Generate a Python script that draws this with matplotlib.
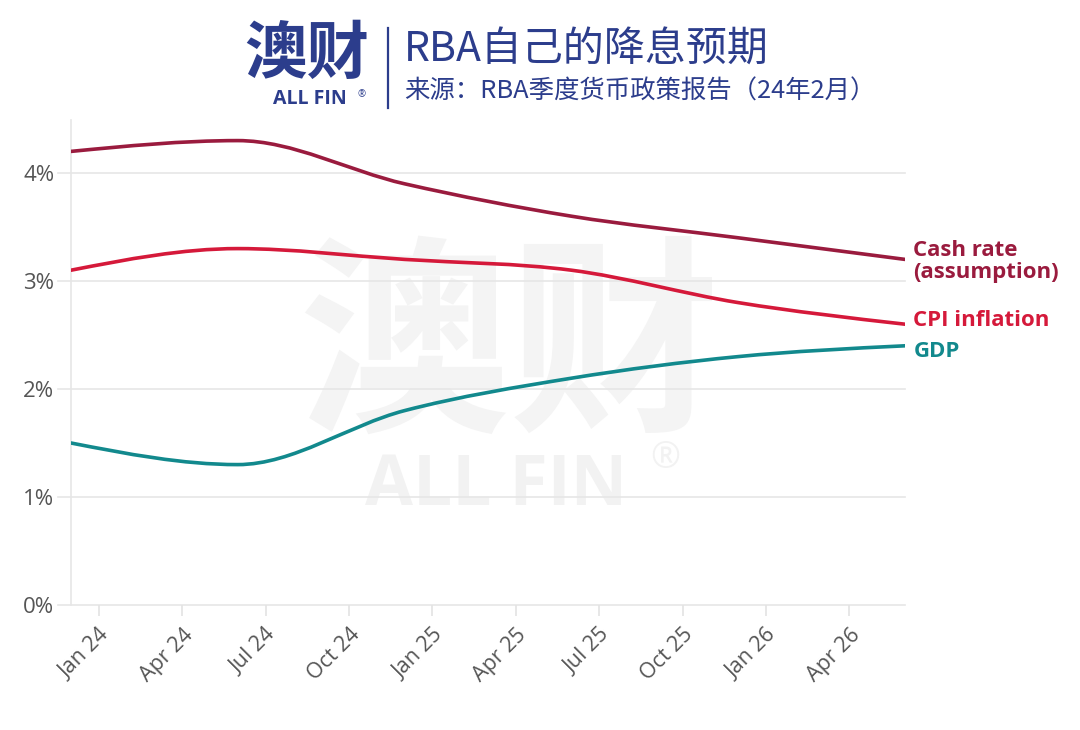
import numpy as np
import matplotlib
matplotlib.use("Agg")
import matplotlib.pyplot as plt
from matplotlib.path import Path
from matplotlib.patches import PathPatch

# ---- data (months relative to Jan 2024 = 0) ----
months = [-1, 5, 11, 17, 23, 29]          # Dec 23, Jun 24, Dec 24, Jun 25, Dec 25, Jun 26
cash_rate = [4.2, 4.3, 3.9, 3.6, 3.4, 3.2]
cpi = [3.1, 3.3, 3.2, 3.1, 2.8, 2.6]
gdp = [1.5, 1.3, 1.8, 2.1, 2.3, 2.4]
tick_pos = [0, 3, 6, 9, 12, 15, 18, 21, 24, 27]
tick_labels = ["Jan 24", "Apr 24", "Jul 24", "Oct 24", "Jan 25", "Apr 25",
               "Jul 25", "Oct 25", "Jan 26", "Apr 26"]
y_ticks = [0, 1, 2, 3, 4]
y_labels = ["0%", "1%", "2%", "3%", "4%"]
series_names = ["Cash rate\n(assumption)", "CPI inflation", "GDP"]

C_CASH = "#9a1b3e"
C_CPI = "#d5193a"
C_GDP = "#12898d"
NAVY = "#2c3d8c"
CJK = ["Noto Sans CJK SC", "DejaVu Sans"]
LAT = ["Open Sans", "DejaVu Sans"]


def monotone_path(x, y):
    """d3 curveMonotoneX as a Bezier path."""
    x = np.asarray(x, float); y = np.asarray(y, float)
    n = len(x)
    h = np.diff(x); s = np.diff(y) / h
    t = np.zeros(n)
    for i in range(1, n - 1):
        s0, s1 = s[i - 1], s[i]
        p = (s0 * h[i] + s1 * h[i - 1]) / (h[i - 1] + h[i])
        t[i] = (np.sign(s0) + np.sign(s1)) * min(abs(s0), abs(s1), 0.5 * abs(p)) or 0.0
    t[0] = (3 * s[0] - t[1]) / 2
    t[-1] = (3 * s[-1] - t[-2]) / 2
    verts = [(x[0], y[0])]; codes = [Path.MOVETO]
    for i in range(n - 1):
        dx = (x[i + 1] - x[i]) / 3
        verts += [(x[i] + dx, y[i] + dx * t[i]), (x[i + 1] - dx, y[i + 1] - dx * t[i + 1]), (x[i + 1], y[i + 1])]
        codes += [Path.CURVE4] * 3
    return Path(verts, codes)


fig = plt.figure(figsize=(10.8, 7.3), dpi=100)
fig.patch.set_facecolor("white")

# axes in pixel geometry: left 71, right 905, top 120, bottom 605
W, H = 1080, 730
ax = fig.add_axes([71 / W, 1 - 605 / H, (905 - 71) / W, (605 - 120) / H])
ax.set_xlim(-1, 29)
ax.set_ylim(0, (605 - 120) / 108)

# watermark
ax.text(0.525, 0.52, "澳财", transform=ax.transAxes, ha="center", va="center",
        fontsize=152, fontweight="bold", color="#f4f4f4", family=CJK, zorder=0)
ax.text(0.51, 0.243, "ALL FIN", transform=ax.transAxes, ha="center", va="center",
        fontsize=50, fontweight="bold", color="#f2f2f2", family=LAT, zorder=0)
ax.text(0.712, 0.30, "®", transform=ax.transAxes, ha="center", va="center",
        fontsize=26, color="#f2f2f2", family=LAT, zorder=0)

for yv in y_ticks:
    ax.axhline(yv, xmin=-0.015, xmax=1.0, color="#e6e6e6", lw=1.2, zorder=1, clip_on=False)

for name_y, col in ((cash_rate, C_CASH), (cpi, C_CPI), (gdp, C_GDP)):
    ax.add_patch(PathPatch(monotone_path(months, name_y), facecolor="none",
                           edgecolor=col, lw=2.6, capstyle="round", zorder=3))

for sp in ("top", "right", "bottom"):
    ax.spines[sp].set_visible(False)
ax.spines["left"].set_color("#e6e6e6")
ax.spines["left"].set_linewidth(1.2)

ax.set_yticks(y_ticks)
ax.set_yticklabels(y_labels, family=LAT, fontsize=16, color="#555555")
ax.tick_params(axis="y", length=0, pad=12)

ax.set_xticks(tick_pos)
ax.set_xticklabels(tick_labels, family=LAT, fontsize=15.5, color="#555555",
                   rotation=45, ha="right", rotation_mode="anchor")
ax.tick_params(axis="x", length=8, width=1.2, color="#e3e3e3", pad=6)

# direct labels
lab_kw = dict(family=LAT, fontsize=16, fontweight="bold", va="center", ha="left",
              transform=ax.transData, clip_on=False)
ax.text(29.3, 3.18, series_names[0], color=C_CASH, linespacing=1.1, **lab_kw)
ax.text(29.3, 2.63, series_names[1], color=C_CPI, **lab_kw)
ax.text(29.3, 2.35, series_names[2], color=C_GDP, **lab_kw)

# header
fig.text(307 / W, 1 - 54 / H, "澳财", ha="center", va="center", fontsize=45,
         fontweight="bold", color=NAVY, family=CJK)
fig.text(310 / W, 1 - 99 / H, "ALL FIN", ha="center", va="center", fontsize=14,
         fontweight="bold", color=NAVY, family=LAT)
fig.text(362 / W, 1 - 95 / H, "®", ha="center", va="center", fontsize=7,
         color=NAVY, family=LAT)
fig.add_artist(plt.Line2D([388 / W, 388 / W], [1 - 28 / H, 1 - 108 / H],
                          color=NAVY, lw=1.6))
fig.text(404 / W, 1 - 50 / H, "RBA自己的降息预期", ha="left", va="center",
         fontsize=29.5, color=NAVY, family=CJK)
fig.text(404 / W, 1 - 92 / H, "来源：RBA季度货币政策报告（24年2月）", ha="left",
         va="center", fontsize=18.3, color=NAVY, family=CJK)

fig.savefig("out.png", dpi=100, facecolor="white")
